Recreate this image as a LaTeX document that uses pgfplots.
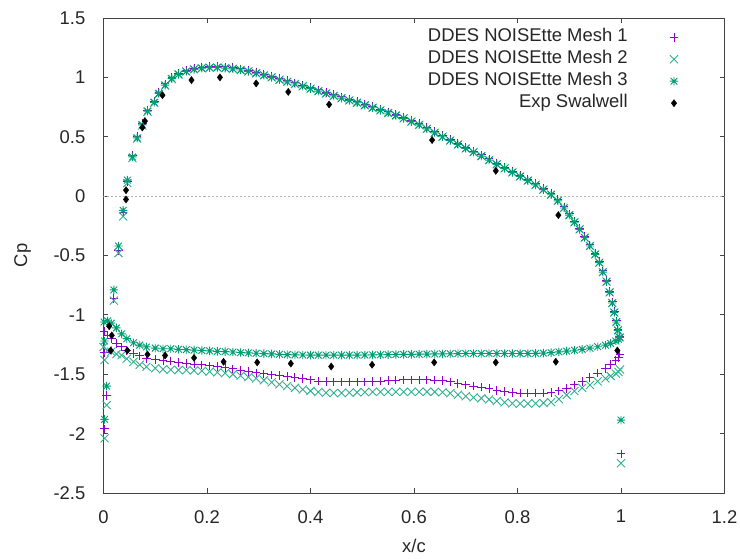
\documentclass[border=0pt]{standalone}
\usepackage{fontspec}
\setmainfont{Liberation Sans}
\usepackage{pgfplots}
\usepackage{pgfplotstable}
\pgfplotsset{compat=1.18}

\definecolor{meshA}{HTML}{9400D3}
\definecolor{meshB}{HTML}{009E73}
\definecolor{axisgray}{HTML}{444444}

% gnuplot style asterisk: + and x together
\pgfdeclareplotmark{gpstar}{%
  \pgfpathmoveto{\pgfqpoint{-\pgfplotmarksize}{0pt}}%
  \pgfpathlineto{\pgfqpoint{\pgfplotmarksize}{0pt}}%
  \pgfpathmoveto{\pgfqpoint{0pt}{-\pgfplotmarksize}}%
  \pgfpathlineto{\pgfqpoint{0pt}{\pgfplotmarksize}}%
  \pgfpathmoveto{\pgfqpoint{-.8\pgfplotmarksize}{-.8\pgfplotmarksize}}%
  \pgfpathlineto{\pgfqpoint{.8\pgfplotmarksize}{.8\pgfplotmarksize}}%
  \pgfpathmoveto{\pgfqpoint{-.8\pgfplotmarksize}{.8\pgfplotmarksize}}%
  \pgfpathlineto{\pgfqpoint{.8\pgfplotmarksize}{-.8\pgfplotmarksize}}%
  \pgfusepathqstroke}

% upper branch, columns: mesh 1, mesh 2, mesh 3
\pgfplotstableread{
x     m1     m2     m3
0.002 -1.96  -2.04  -1.88
0.006 -1.68  -1.76  -1.60
0.020 -0.86  -0.88  -0.79
0.029 -0.46  -0.48  -0.42
0.038 -0.14  -0.17  -0.12
0.046 0.125  0.11   0.135
0.056 0.34   0.32   0.33
0.065 0.50   0.485  0.49
0.075 0.61   0.595  0.60
0.085 0.725  0.71   0.716
0.098 0.80   0.785  0.79
0.107 0.875  0.86   0.865
0.119 0.945  0.93   0.935
0.132 1.000  0.985  0.99
0.145 1.035  1.025  1.025
0.160 1.060  1.050  1.050
0.175 1.078  1.068  1.068
0.190 1.087  1.077  1.077
0.205 1.092  1.082  1.082
0.220 1.093  1.083  1.083
0.235 1.088  1.078  1.078
0.250 1.082  1.072  1.072
0.265 1.072  1.062  1.062
0.280 1.060  1.050  1.050
0.295 1.045  1.035  1.035
0.310 1.028  1.018  1.018
0.325 1.010  1.000  1.000
0.340 0.990  0.980  0.980
0.355 0.972  0.962  0.962
0.370 0.954  0.944  0.944
0.385 0.935  0.925  0.925
0.400 0.915  0.905  0.905
0.415 0.894  0.884  0.884
0.430 0.874  0.864  0.864
0.445 0.854  0.844  0.844
0.460 0.835  0.825  0.825
0.475 0.816  0.806  0.806
0.490 0.796  0.786  0.786
0.505 0.775  0.765  0.765
0.520 0.754  0.744  0.744
0.535 0.732  0.722  0.722
0.550 0.710  0.700  0.700
0.565 0.689  0.679  0.679
0.580 0.665  0.655  0.655
0.595 0.638  0.628  0.628
0.610 0.610  0.600  0.600
0.625 0.576  0.566  0.566
0.640 0.543  0.533  0.533
0.655 0.510  0.500  0.500
0.670 0.478  0.468  0.468
0.685 0.445  0.435  0.435
0.700 0.412  0.402  0.402
0.715 0.380  0.370  0.370
0.730 0.347  0.337  0.337
0.745 0.313  0.303  0.303
0.760 0.278  0.268  0.268
0.775 0.244  0.234  0.234
0.790 0.210  0.200  0.200
0.805 0.176  0.166  0.166
0.820 0.141  0.131  0.131
0.835 0.105  0.095  0.095
0.850 0.065  0.055  0.055
0.865 0.022  0.012  0.012
0.878 -0.030 -0.040 -0.040
0.890 -0.090 -0.100 -0.100
0.900 -0.150 -0.160 -0.160
0.910 -0.210 -0.220 -0.220
0.920 -0.270 -0.280 -0.280
0.930 -0.340 -0.350 -0.350
0.940 -0.410 -0.420 -0.420
0.950 -0.480 -0.490 -0.490
0.958 -0.550 -0.560 -0.560
0.965 -0.630 -0.640 -0.640
0.972 -0.710 -0.720 -0.720
0.978 -0.800 -0.810 -0.810
0.983 -0.890 -0.900 -0.900
0.987 -0.970 -0.980 -0.980
0.991 -1.050 -1.060 -1.060
0.994 -1.120 -1.130 -1.130
0.997 -1.180 -1.190 -1.190
}\uppertab

% lower branch, columns: mesh 1, mesh 2, mesh 3
\pgfplotstableread{
x     m1     m2     m3
0.008 -1.17  -1.30  -1.05
0.015 -1.20  -1.31  -1.07
0.025 -1.24  -1.33  -1.11
0.035 -1.27  -1.34  -1.16
0.045 -1.30  -1.37  -1.20
0.058 -1.325 -1.395 -1.235
0.070 -1.345 -1.42  -1.255
0.083 -1.367 -1.437 -1.27
0.100 -1.378 -1.45  -1.28
0.115 -1.385 -1.458 -1.285
0.130 -1.39  -1.462 -1.285
0.145 -1.40  -1.465 -1.29
0.160 -1.408 -1.465 -1.293
0.175 -1.415 -1.468 -1.297
0.190 -1.422 -1.472 -1.30
0.205 -1.43  -1.478 -1.303
0.220 -1.437 -1.484 -1.307
0.235 -1.445 -1.49  -1.31
0.250 -1.455 -1.50  -1.313
0.265 -1.467 -1.512 -1.317
0.280 -1.478 -1.524 -1.32
0.295 -1.488 -1.535 -1.323
0.310 -1.497 -1.55  -1.326
0.325 -1.505 -1.568 -1.329
0.340 -1.512 -1.585 -1.332
0.355 -1.519 -1.60  -1.335
0.370 -1.528 -1.615 -1.337
0.385 -1.538 -1.628 -1.338
0.400 -1.548 -1.64  -1.339
0.415 -1.557 -1.65  -1.339
0.430 -1.563 -1.656 -1.339
0.445 -1.565 -1.658 -1.339
0.460 -1.565 -1.658 -1.339
0.475 -1.565 -1.655 -1.339
0.490 -1.565 -1.652 -1.339
0.505 -1.565 -1.65  -1.338
0.520 -1.563 -1.648 -1.337
0.535 -1.558 -1.648 -1.336
0.550 -1.553 -1.648 -1.335
0.565 -1.55  -1.648 -1.334
0.580 -1.548 -1.648 -1.333
0.595 -1.548 -1.648 -1.332
0.610 -1.548 -1.648 -1.331
0.625 -1.548 -1.648 -1.33
0.640 -1.55  -1.648 -1.329
0.655 -1.555 -1.652 -1.328
0.670 -1.565 -1.66  -1.327
0.685 -1.578 -1.672 -1.326
0.700 -1.59  -1.685 -1.325
0.715 -1.60  -1.695 -1.325
0.730 -1.608 -1.703 -1.325
0.745 -1.62  -1.712 -1.325
0.760 -1.635 -1.725 -1.325
0.775 -1.647 -1.737 -1.325
0.790 -1.655 -1.745 -1.325
0.805 -1.658 -1.747 -1.325
0.820 -1.658 -1.747 -1.325
0.835 -1.658 -1.745 -1.324
0.850 -1.658 -1.742 -1.322
0.865 -1.655 -1.735 -1.318
0.880 -1.64  -1.71  -1.312
0.895 -1.62  -1.675 -1.305
0.910 -1.59  -1.642 -1.298
0.925 -1.56  -1.615 -1.29
0.940 -1.525 -1.59  -1.28
0.955 -1.49  -1.56  -1.268
0.970 -1.45  -1.535 -1.255
0.980 -1.42  -1.515 -1.24
0.990 -1.385 -1.495 -1.22
0.995 -1.36  -1.48  -1.205
0.998 -1.33  -1.46  -1.19
}\lowertab

% experiment (Swalwell)
\pgfplotstableread{
x     cp
0.0435 0.05
0.0435 -0.028
0.075 0.578
0.080 0.632
0.114 0.85
0.170 0.977
0.225 1.00
0.295 0.949
0.357 0.878
0.436 0.772
0.635 0.472
0.758 0.213
0.879 -0.16
0.011 -1.095
0.016 -1.173
0.014 -1.30
0.046 -1.30
0.085 -1.333
0.119 -1.342
0.175 -1.362
0.232 -1.395
0.297 -1.40
0.362 -1.41
0.440 -1.435
0.519 -1.42
0.639 -1.40
0.758 -1.40
0.874 -1.395
0.993 -1.30
}\expdata

\begin{document}
\fontsize{18.5}{22}\selectfont
\begin{tikzpicture}
\useasboundingbox (-103.5bp,-66bp) rectangle (636.5bp,493bp);
\begin{axis}[
    at={(0,0)}, anchor=south west,
    scale only axis,
    width=621bp, height=475bp,
    xmin=0, xmax=1.2,
    ymin=-2.5, ymax=1.5,
    xtick={0,0.2,0.4,0.6,0.8,1,1.2},
    ytick={-2.5,-2,-1.5,-1,-0.5,0,0.5,1,1.5},
    /pgf/number format/assume math mode=true,
    axis line style={axisgray, line width=1bp},
    tick style={axisgray, line width=1bp},
    major tick length=5bp,
    tick align=inside,
    yticklabel style={anchor=east, inner sep=0pt, xshift=-18bp, text=black!85},
    xticklabel style={anchor=north, inner sep=0pt, yshift=-17bp, text=black!85},
    xlabel={x/c}, ylabel={Cp},
    xlabel style={at={(axis description cs:0.5,-0.1116)}, anchor=center, text=black!85},
    ylabel style={at={(axis description cs:-0.1304,0.5)}, anchor=center, text=black!85},
    legend plot pos=right,
    legend cell align=right,
    legend image code/.code={\draw[mark repeat=2,mark phase=2,#1] plot coordinates {(0bp,0bp) (12bp,0bp) (24bp,0bp)};},
    legend style={at={(axis description cs:1,1)}, anchor=north east,
        xshift=-46bp, yshift=-8bp, draw=none, fill=none, inner sep=0pt,
        column sep=42bp, row sep=0pt, text=black!85,
        nodes={inner sep=0pt, text height=15bp, text depth=7bp}},
]
\addplot[gray!60, dash pattern=on 2bp off 2bp, line width=0.7bp, forget plot] coordinates {(0,0) (1.2,0)};

% mesh 1
\addplot[only marks, mark=+, mark size=4.3bp, color=meshA, line width=1bp] table[x=x, y=m1] {\uppertab};
\addlegendentry{DDES NOISEtte Mesh 1}
\addplot[only marks, mark=+, mark size=4.3bp, color=meshA, line width=1bp, forget plot] table[x=x, y=m1] {\lowertab};
\addplot[only marks, mark=+, mark size=4.3bp, color=meshA, line width=1bp, forget plot] coordinates {(0.001,-1.14) (0.002,-1.32) (1.0,-2.17)};

% mesh 2
\addplot[only marks, mark=x, mark size=5.7bp, color=meshB!80, line width=0.9bp] table[x=x, y=m2] {\uppertab};
\addlegendentry{DDES NOISEtte Mesh 2}
\addplot[only marks, mark=x, mark size=5.7bp, color=meshB!80, line width=0.9bp, forget plot] table[x=x, y=m2] {\lowertab};
\addplot[only marks, mark=x, mark size=5.7bp, color=meshB!80, line width=0.9bp, forget plot] coordinates {(0.0,-1.27) (0.002,-1.38) (1.0,-2.25)};

% mesh 3
\addplot[only marks, mark=gpstar, mark size=4.2bp, color=meshB, line width=0.9bp] table[x=x, y=m3] {\uppertab};
\addlegendentry{DDES NOISEtte Mesh 3}
\addplot[only marks, mark=gpstar, mark size=4.2bp, color=meshB, line width=0.9bp, forget plot] table[x=x, y=m3] {\lowertab};
\addplot[only marks, mark=gpstar, mark size=4.2bp, color=meshB, line width=0.9bp, forget plot] coordinates {(0.001,-1.06) (0.002,-1.22) (1.0,-1.886)};

% experiment
\addplot[only marks, mark=diamond*, mark size=3.6bp, color=black, mark options={fill=black}] table[x=x, y=cp] {\expdata};
\addlegendentry{Exp Swalwell}
\end{axis}
\end{tikzpicture}
\end{document}
